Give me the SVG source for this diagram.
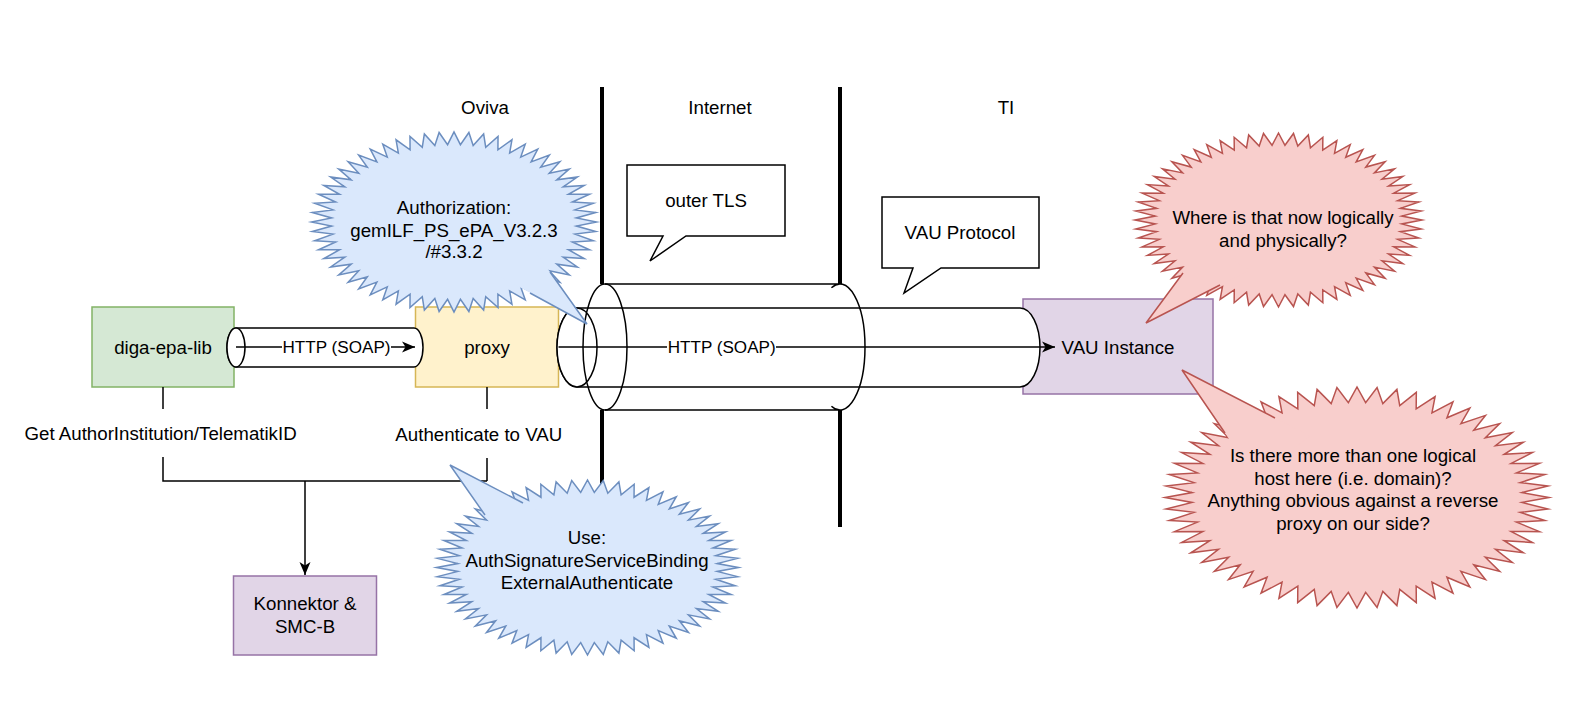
<svg xmlns="http://www.w3.org/2000/svg" xmlns:xlink="http://www.w3.org/1999/xlink" width="1575" height="705" viewBox="0 0 1575 705">
<style>
  text { font-family: "Liberation Sans", Arial, Helvetica, sans-serif; font-size: 18.7px; fill: #000; text-anchor: middle; }
  text.sm { font-size: 17.1px; }
  .ln { stroke: #000; stroke-width: 1.5; fill: none; }
  .thick { stroke: #000; stroke-width: 4; fill: none; }
  .cyl { stroke: #000; stroke-width: 1.5; fill: #fff; }
  .green { fill: #d5e8d4; stroke: #82b366; stroke-width: 1.5; }
  .yellow { fill: #fff2cc; stroke: #d6b656; stroke-width: 1.5; }
  .purple { fill: #e1d5e7; stroke: #9673a6; stroke-width: 1.5; }
  .note { fill: #fff; stroke: #000; stroke-width: 1.5; }
  .blue { fill: #dae8fc; stroke: #6c8ebf; stroke-width: 1.5; stroke-linejoin: miter; stroke-miterlimit: 10; }
  .bluef { fill: #dae8fc; stroke: none; }
  .blues { fill: none; stroke: #6c8ebf; stroke-width: 1.5; }
  .red { fill: #f8cecc; stroke: #b85450; stroke-width: 1.5; stroke-linejoin: miter; stroke-miterlimit: 10; }
  .redf { fill: #f8cecc; stroke: none; }
  .reds { fill: none; stroke: #b85450; stroke-width: 1.5; }
  .bg { fill: #fff; stroke: none; }
</style>
<defs>
  <path id="spk" vector-effect="non-scaling-stroke" d="M100,0 L85.88,4.5 L99.45,10.45 L84.94,13.45 L97.81,20.79 L83.07,22.26 L95.11,30.9 L80.29,30.82 L91.35,40.67 L76.63,39.04 L86.6,50 L72.13,46.84 L80.9,58.78 L66.83,54.12 L74.31,66.91 L60.81,60.81 L66.91,74.31 L54.12,66.83 L58.78,80.9 L46.84,72.13 L50,86.6 L39.04,76.63 L40.67,91.35 L30.82,80.29 L30.9,95.11 L22.26,83.07 L20.79,97.81 L13.45,84.94 L10.45,99.45 L4.5,85.88 L0,100 L-4.5,85.88 L-10.45,99.45 L-13.45,84.94 L-20.79,97.81 L-22.26,83.07 L-30.9,95.11 L-30.82,80.29 L-40.67,91.35 L-39.04,76.63 L-50,86.6 L-46.84,72.13 L-58.78,80.9 L-54.12,66.83 L-66.91,74.31 L-60.81,60.81 L-74.31,66.91 L-66.83,54.12 L-80.9,58.78 L-72.13,46.84 L-86.6,50 L-76.63,39.04 L-91.35,40.67 L-80.29,30.82 L-95.11,30.9 L-83.07,22.26 L-97.81,20.79 L-84.94,13.45 L-99.45,10.45 L-85.88,4.5 L-100,0 L-85.88,-4.5 L-99.45,-10.45 L-84.94,-13.45 L-97.81,-20.79 L-83.07,-22.26 L-95.11,-30.9 L-80.29,-30.82 L-91.35,-40.67 L-76.63,-39.04 L-86.6,-50 L-72.13,-46.84 L-80.9,-58.78 L-66.83,-54.12 L-74.31,-66.91 L-60.81,-60.81 L-66.91,-74.31 L-54.12,-66.83 L-58.78,-80.9 L-46.84,-72.13 L-50,-86.6 L-39.04,-76.63 L-40.67,-91.35 L-30.82,-80.29 L-30.9,-95.11 L-22.26,-83.07 L-20.79,-97.81 L-13.45,-84.94 L-10.45,-99.45 L-4.5,-85.88 L0,-100 L4.5,-85.88 L10.45,-99.45 L13.45,-84.94 L20.79,-97.81 L22.26,-83.07 L30.9,-95.11 L30.82,-80.29 L40.67,-91.35 L39.04,-76.63 L50,-86.6 L46.84,-72.13 L58.78,-80.9 L54.12,-66.83 L66.91,-74.31 L60.81,-60.81 L74.31,-66.91 L66.83,-54.12 L80.9,-58.78 L72.13,-46.84 L86.6,-50 L76.63,-39.04 L91.35,-40.67 L80.29,-30.82 L95.11,-30.9 L83.07,-22.26 L97.81,-20.79 L84.94,-13.45 L99.45,-10.45 L85.88,-4.5 Z"/>
  <marker id="arrow" markerWidth="14" markerHeight="12" refX="13" refY="6" orient="auto" markerUnits="userSpaceOnUse">
    <path d="M0,0.5 L13,6 L0,11.5 L3.5,6 Z" fill="#000"/>
  </marker>
</defs>
<rect x="0" y="0" width="1575" height="705" fill="#fff"/>

<g id="zone-labels">
  <text x="485" y="113.5">Oviva</text>
  <text x="720" y="113.5">Internet</text>
  <text x="1006" y="113.5">TI</text>
</g>

<g id="boundaries">
  <path class="thick" d="M602,87 V284 M602,410 V527 M840,87 V284 M840,410 V527"/>
</g>

<g id="diga-epa-lib">
  <rect class="green" x="92" y="307" width="142" height="80"/>
  <text x="163" y="353.5">diga-epa-lib</text>
</g>
<g id="proxy">
  <rect class="yellow" x="415.5" y="307" width="143" height="80"/>
  <text x="487" y="353.5">proxy</text>
</g>
<g id="vau-instance">
  <rect class="purple" x="1023" y="299" width="190" height="95"/>
  <text x="1118" y="353.5">VAU Instance</text>
</g>
<g id="konnektor">
  <rect class="purple" x="233.5" y="576" width="143" height="79"/>
  <text x="305" y="609.8">Konnektor &amp;</text>
  <text x="305" y="633.2">SMC-B</text>
</g>

<g id="http-tube">
  <path class="cyl" d="M236,328 H414 A9,19.5 0 0 1 414,367 H236 A9,19.5 0 0 1 236,328 Z"/>
  <ellipse class="cyl" cx="236" cy="347.5" rx="9" ry="19.5"/>
</g>
<g id="vau-protocol-tube">
  <path class="cyl" d="M577,308 H1020 A20,39.5 0 0 1 1020,387 H577 A20,39.5 0 0 1 577,308 Z"/>
  <ellipse class="cyl" cx="577" cy="347.5" rx="20" ry="39.5"/>
</g>
<g id="outer-tls-tube">
  <path class="ln" d="M605,284 H840 M605,410 H840 M831.45,287.8 A25,63 0 1 1 831.45,406.2"/>
  <ellipse class="ln" cx="605" cy="347" rx="22" ry="63"/>
</g>

<g id="connectors">
  <path class="ln" d="M236,347 H415" marker-end="url(#arrow)"/>
  <path class="ln" d="M558.5,347 H1055" marker-end="url(#arrow)"/>
  <path class="ln" d="M163,387 V409 M163,457 V481 H487 M487,387 V409 M487,458 V481"/>
  <path class="ln" d="M305,481 V575" marker-end="url(#arrow)"/>
  <rect class="bg" x="282" y="337" width="109" height="21"/>
  <text class="sm" x="336.5" y="353">HTTP (SOAP)</text>
  <rect class="bg" x="667" y="337" width="109" height="21"/>
  <text class="sm" x="721.7" y="353">HTTP (SOAP)</text>
  <text x="160.6" y="439.5">Get AuthorInstitution/TelematikID</text>
  <text x="478.8" y="440.5">Authenticate to VAU</text>
</g>

<g id="note-outer-tls">
  <path class="note" d="M627,165 H785 V236 H686 L650,261 L663,236 H627 Z"/>
  <text x="706" y="206.5">outer TLS</text>
</g>
<g id="note-vau-protocol">
  <path class="note" d="M882,197 H1039 V268 H941 L904,293 L913,268 H882 Z"/>
  <text x="960" y="238.5">VAU Protocol</text>
</g>

<g id="callout-authorization">
  <use href="#spk" class="blue" transform="translate(454,222) scale(1.425,0.9)"/>
  <polygon class="bluef" points="587,324 530,244 490,271"/>
  <polyline class="blues" points="550,272 587,324 530,293"/>
  <text x="454" y="213.5">Authorization:</text>
  <text x="454" y="236.5">gemILF_PS_ePA_V3.2.3</text>
  <text x="454" y="258">/#3.3.2</text>
</g>

<g id="callout-use">
  <use href="#spk" class="blue" transform="translate(587.5,567.5) scale(1.51,0.875)"/>
  <polygon class="bluef" points="450,465 560,522 510,551"/>
  <polyline class="blues" points="523,503 450,465 485,515"/>
  <text x="587" y="543.8">Use:</text>
  <text x="587" y="566.5">AuthSignatureServiceBinding</text>
  <text x="587" y="589.2">ExternalAuthenticate</text>
</g>

<g id="callout-where">
  <use href="#spk" class="red" transform="translate(1278.5,220) scale(1.435,0.87)"/>
  <polygon class="redf" points="1146,323 1205,244 1250,270"/>
  <polyline class="reds" points="1183,273 1146,323 1220,285"/>
  <text x="1283" y="223.8">Where is that now logically</text>
  <text x="1283" y="246.5">and physically?</text>
</g>

<g id="callout-host">
  <use href="#spk" class="red" transform="translate(1357,497.5) scale(1.92,1.105)"/>
  <polygon class="redf" points="1182,370 1310,436 1255,477"/>
  <polyline class="reds" points="1275,418 1182,370 1225,433"/>
  <text x="1353" y="461.5">Is there more than one logical</text>
  <text x="1353" y="484.8">host here (i.e. domain)?</text>
  <text x="1353" y="507.2">Anything obvious against a reverse</text>
  <text x="1353" y="529.8">proxy on our side?</text>
</g>
</svg>
